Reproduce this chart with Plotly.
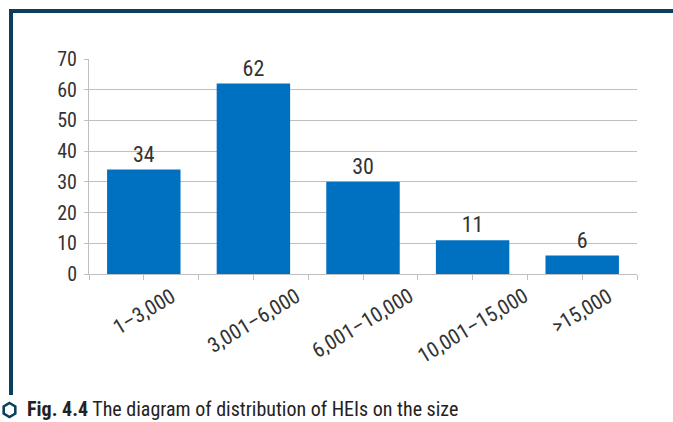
import plotly.graph_objects as go

categories = ["1\u20133,000", "3,001\u20136,000", "6,001\u201310,000", "10,001\u201315,000", "&gt;15,000"]
values = [34, 62, 30, 11, 6]
y_ticks = [0, 10, 20, 30, 40, 50, 60, 70]
caption_bold = "Fig. 4.4"
caption_text = "The diagram of distribution of HEIs on the size"

FONT = "Roboto Condensed, Roboto, sans-serif"
W, H = 673, 422
L, R, T, B = 89, 36, 59, 148
PW, PH = W - L - R, H - T - B
NAVY = "#0b3f5e"
GRID = "#bfbfbf"
TXT = "#333333"

def px(x):
    return (x - L) / PW

def py(y):
    return (H - B - y) / PH

fig = go.Figure()
fig.add_trace(go.Bar(
    x=categories, y=values,
    marker=dict(color="#0070c0", line=dict(width=0)),
    text=[str(v) for v in values], textposition="outside",
    textfont=dict(family=FONT, size=22, color=TXT),
    cliponaxis=False, hoverinfo="skip", showlegend=False,
))
# invisible trace to drive the centre tick marks
fig.add_trace(go.Scatter(
    x=categories, y=values, xaxis="x2", mode="markers",
    marker=dict(opacity=0), hoverinfo="skip", showlegend=False,
))

annotations = [
    dict(xref="x", yref="paper", x=c, y=py(281), xanchor="center", yanchor="top",
         textangle=-31, showarrow=False, text=c,
         font=dict(family=FONT, size=21, color=TXT))
    for c in categories
]
annotations.append(
    dict(xref="paper", yref="paper", x=px(25), y=py(409),
         xanchor="left", yanchor="middle", showarrow=False,
         text=f"<b>{caption_bold}</b> {caption_text}",
         font=dict(family=FONT, size=20, color="#222222"))
)

fig.update_layout(
    width=W, height=H,
    margin=dict(l=L, r=R, t=T, b=B, autoexpand=False),
    paper_bgcolor="white", plot_bgcolor="white",
    bargap=0.33,
    font=dict(family=FONT, color=TXT),
    xaxis=dict(
        type="category", categoryarray=categories, range=[-0.5, 4.5],
        tickson="boundaries", ticks="outside", ticklen=5, tickcolor=GRID,
        showline=True, linecolor=GRID, linewidth=1,
        showticklabels=False, showgrid=False, zeroline=False,
    ),
    xaxis2=dict(
        type="category", categoryarray=categories, range=[-0.5, 4.5],
        overlaying="x", side="bottom", anchor="y",
        ticks="outside", ticklen=5, tickcolor=GRID,
        showticklabels=False, showgrid=False, showline=False, zeroline=False,
    ),
    yaxis=dict(
        range=[0, 70], tickvals=y_ticks,
        ticks="outside", ticklen=4, tickcolor=GRID,
        showline=True, linecolor=GRID, linewidth=1,
        gridcolor=GRID, gridwidth=1, zeroline=False,
        ticklabelstandoff=3,
        tickfont=dict(family=FONT, size=20, color=TXT),
    ),
    shapes=[
        dict(type="line", xref="paper", yref="paper",
             x0=px(9), x1=px(680), y0=py(11), y1=py(11),
             line=dict(color=NAVY, width=4)),
        dict(type="line", xref="paper", yref="paper",
             x0=px(11), x1=px(11), y0=py(9), y1=py(395),
             line=dict(color=NAVY, width=4)),
        dict(type="path", xref="paper", yref="paper",
             xsizemode="pixel", ysizemode="pixel",
             xanchor=px(9.5), yanchor=py(410),
             path="M 0 7 L 5.8 3.5 L 5.8 -3.5 L 0 -7 L -5.8 -3.5 L -5.8 3.5 Z",
             line=dict(color=NAVY, width=2.6), fillcolor="rgba(0,0,0,0)"),
    ],
    annotations=annotations,
)

fig.write_html(
    "out.html",
    config={"displayModeBar": False},
    post_script="document.documentElement.style.margin='0';document.body.style.margin='0';document.body.style.overflow='hidden';",
)
